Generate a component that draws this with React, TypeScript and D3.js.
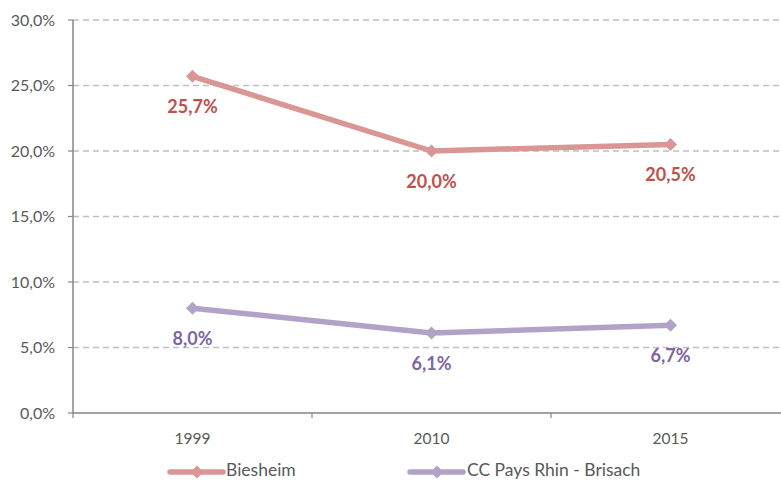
import React from "react";
import * as d3 from "d3";

const categories = ["1999", "2010", "2015"];
const biesheim = [25.7, 20.0, 20.5];
const ccPays = [8.0, 6.1, 6.7];
const yTicks = [0, 5, 10, 15, 20, 25, 30];
const seriesNames = ["Biesheim", "CC Pays Rhin - Brisach"];

const W = 781;
const H = 481;
const font = "Lato, 'Open Sans', 'Noto Sans', sans-serif";

export default function App() {
  const left = 73;
  const band = 239;
  const x = d3
    .scaleBand<string>()
    .domain(categories)
    .range([left, left + band * categories.length]);
  const y = d3.scaleLinear().domain([0, 30]).range([413, 20]);
  const fmt = (v: number) => v.toFixed(1).replace(".", ",") + "%";
  const cx = (c: string) => (x(c) as number) + x.bandwidth() / 2;

  const series = [
    { name: seriesNames[0], values: biesheim, line: "#D99694", label: "#C0504D" },
    { name: seriesNames[1], values: ccPays, line: "#B3A2C7", label: "#8064A2" },
  ];

  const lineGen = d3
    .line<number>()
    .x((_, i) => cx(categories[i]))
    .y((v) => y(v));

  const diamond = (px: number, py: number, r: number) =>
    `M${px},${py - r}L${px + r},${py}L${px},${py + r}L${px - r},${py}Z`;

  const legendItems = [
    { x0: 170, textX: 226 },
    { x0: 410, textX: 467 },
  ];

  return (
    <svg
      width={W}
      height={H}
      style={{ position: "absolute", left: 0, top: 0, background: "#fff" }}
      fontFamily={font}
    >
      {yTicks.map((t) => (
        <g key={t}>
          {t > 0 && (
            <line
              x1={left}
              x2={W}
              y1={y(t)}
              y2={y(t)}
              stroke="#BFBFBF"
              strokeWidth={1.5}
              strokeDasharray="6,4"
            />
          )}
          <line x1={left - 5} x2={left} y1={y(t)} y2={y(t)} stroke="#868686" strokeWidth={1.2} />
          <text
            x={55}
            y={y(t)}
            dy="0.35em"
            textAnchor="end"
            fontSize={16}
            fill="#595959"
          >
            {fmt(t)}
          </text>
        </g>
      ))}
      <line x1={left} x2={left} y1={y(30)} y2={y(0)} stroke="#868686" strokeWidth={1.5} />
      <line x1={left} x2={W} y1={y(0)} y2={y(0)} stroke="#868686" strokeWidth={1.5} />
      {categories.map((c, i) => (
        <g key={c}>
          <line
            x1={x(c) as number}
            x2={x(c) as number}
            y1={y(0)}
            y2={y(0) + 5}
            stroke="#868686"
            strokeWidth={1.2}
          />
          <text x={cx(c)} y={444} textAnchor="middle" fontSize={15.5} fill="#595959">
            {c}
          </text>
        </g>
      ))}
      {series.map((s) => (
        <g key={s.name}>
          <path d={lineGen(s.values) || ""} fill="none" stroke={s.line} strokeWidth={5.5} strokeLinejoin="round" />
          {s.values.map((v, i) => (
            <path key={i} d={diamond(cx(categories[i]), y(v), 6.5)} fill={s.line} />
          ))}
          {s.values.map((v, i) => (
            <text
              key={"l" + i}
              x={cx(categories[i])}
              y={y(v) + 36.5}
              textAnchor="middle"
              fontSize={18}
              fontWeight="bold"
              fill={s.label}
            >
              {fmt(v)}
            </text>
          ))}
        </g>
      ))}
      {series.map((s, i) => {
        const lx = legendItems[i].x0;
        return (
          <g key={"leg" + i}>
            <line x1={lx} x2={lx + 53} y1={472} y2={472} stroke={s.line} strokeWidth={5.5} strokeLinecap="round" />
            <path d={diamond(lx + 27, 472, 6.5)} fill={s.line} />
            <text x={legendItems[i].textX} y={476} fontSize={17.5} fill="#595959">
              {s.name}
            </text>
          </g>
        );
      })}
    </svg>
  );
}
